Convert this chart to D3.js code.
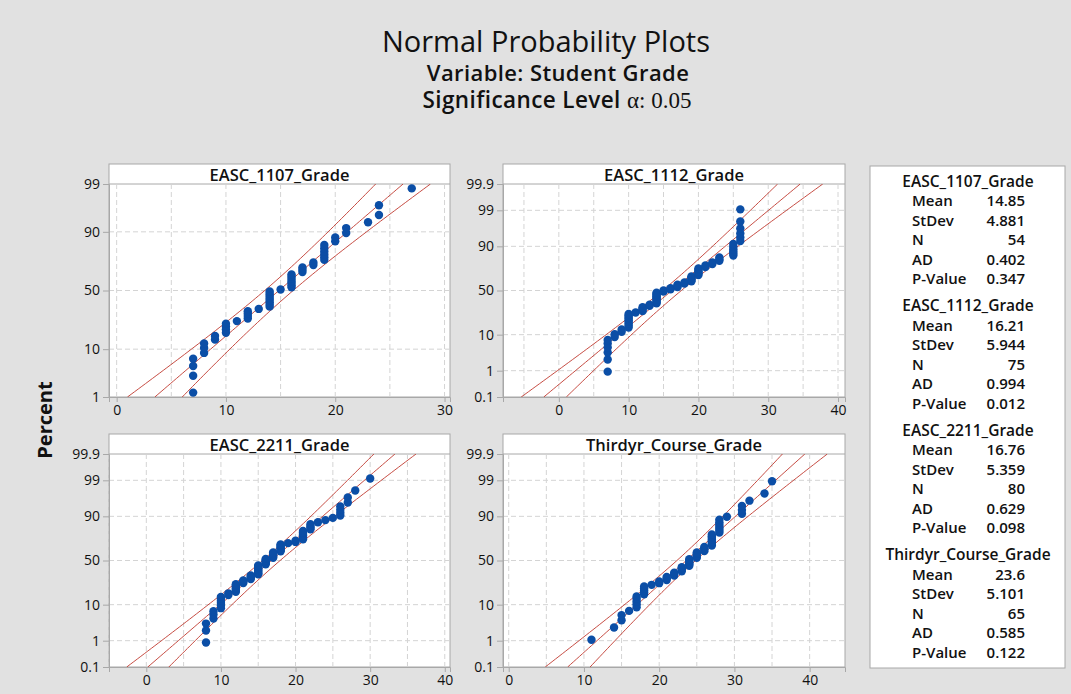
<!DOCTYPE html>
<html lang="en">
<head>
<meta charset="UTF-8">
<title>Normal Probability Plots</title>
<script src="https://d3js.org/d3.v7.min.js"></script>
<style>
    body { margin: 0; background: #e1e1e1; }
    svg text { font-family: "Open Sans", "Noto Sans", sans-serif; fill: #111; }
    .grid line { stroke: #d4d4d4; stroke-dasharray: 5,3; }
    .tick text { font-size: 14px; }
</style>
</head>
<body>
<svg id="chart" width="1071" height="694"></svg>
<script>
    // grades (value and how many students got it)
    const panelNames = ["EASC_1107_Grade", "EASC_1112_Grade", "EASC_2211_Grade", "Thirdyr_Course_Grade"];

    const grades1107 = [7, 8, 9, 10, 11, 12, 13, 14, 15, 16, 17, 18, 19, 20, 21, 23, 24, 27];
    const counts1107 = [4, 3, 2, 4, 1, 4, 1, 8, 1, 7, 3, 2, 6, 2, 2, 1, 2, 1];

    const grades1112 = [7, 8, 9, 10, 11, 12, 13, 14, 15, 16, 17, 18, 19, 20, 21, 22, 23, 25, 26];
    const counts1112 = [6, 2, 2, 9, 1, 4, 2, 10, 2, 2, 3, 2, 5, 6, 2, 2, 3, 6, 6];

    const grades2211 = [8, 9, 10, 11, 12, 13, 14, 15, 16, 17, 18, 19, 20, 21, 22, 23, 24, 25, 26, 27, 28, 30];
    const counts2211 = [3, 3, 6, 2, 6, 3, 4, 9, 6, 6, 7, 1, 2, 7, 4, 1, 1, 1, 4, 2, 1, 1];

    const gradesThird = [11, 14, 15, 16, 17, 18, 19, 20, 21, 22, 23, 24, 25, 26, 27, 28, 29, 31, 32, 34, 35];
    const countsThird = [1, 1, 2, 1, 5, 5, 1, 2, 3, 3, 4, 6, 5, 4, 8, 7, 1, 3, 1, 1, 1];

    // legend statistics
    const statMean = [14.85, 16.21, 16.76, 23.6];
    const statStDev = [4.881, 5.944, 5.359, 5.101];
    const statN = [54, 75, 80, 65];
    const statAD = ["0.402", "0.994", "0.629", "0.585"];
    const statP = ["0.347", "0.012", "0.098", "0.122"];

    const xTicks = [[0, 10, 20, 30], [0, 10, 20, 30, 40], [0, 10, 20, 30, 40], [0, 10, 20, 30, 40]];
    const yTicksShort = [1, 10, 50, 90, 99];
    const yTicksLong = [0.1, 1, 10, 50, 90, 99, 99.9];

    const allGrades = [grades1107, grades1112, grades2211, gradesThird];
    const allCounts = [counts1107, counts1112, counts2211, countsThird];

    // where each panel sits
    const frames = [
        {left: 109, right: 450, stripTop: 164, top: 184, bottom: 397, xDom: [-0.7, 30.5], yLo: 1, yHi: 99, yT: yTicksShort},
        {left: 503, right: 845, stripTop: 164, top: 184, bottom: 397, xDom: [-8, 41], yLo: 0.1, yHi: 99.9, yT: yTicksLong},
        {left: 109, right: 450, stripTop: 434, top: 454, bottom: 667, xDom: [-5, 40.7], yLo: 0.1, yHi: 99.9, yT: yTicksLong},
        {left: 503, right: 845, stripTop: 434, top: 454, bottom: 667, xDom: [-0.76, 44.7], yLo: 0.1, yHi: 99.9, yT: yTicksLong}
    ];

    // inverse normal cdf (Acklam)
    function probit(p) {
        const a = [-3.969683028665376e+01, 2.209460984245205e+02, -2.759285104469687e+02, 1.383577518672690e+02, -3.066479806614716e+01, 2.506628277459239e+00];
        const b = [-5.447609879822406e+01, 1.615858368580409e+02, -1.556989798598866e+02, 6.680131188771972e+01, -1.328068155288572e+01];
        const c = [-7.784894002430293e-03, -3.223964580411365e-01, -2.400758277161838e+00, -2.549732539343734e+00, 4.374664141464968e+00, 2.938163982698783e+00];
        const d = [7.784695709041462e-03, 3.224671290700398e-01, 2.445134137142996e+00, 3.754408661907416e+00];
        let q, r;
        if (p < 0.02425) {
            q = Math.sqrt(-2 * Math.log(p));
            return (((((c[0]*q+c[1])*q+c[2])*q+c[3])*q+c[4])*q+c[5]) / ((((d[0]*q+d[1])*q+d[2])*q+d[3])*q+1);
        }
        if (p > 1 - 0.02425) {
            q = Math.sqrt(-2 * Math.log(1 - p));
            return -(((((c[0]*q+c[1])*q+c[2])*q+c[3])*q+c[4])*q+c[5]) / ((((d[0]*q+d[1])*q+d[2])*q+d[3])*q+1);
        }
        q = p - 0.5; r = q * q;
        return (((((a[0]*r+a[1])*r+a[2])*r+a[3])*r+a[4])*r+a[5])*q / (((((b[0]*r+b[1])*r+b[2])*r+b[3])*r+b[4])*r+1);
    }

    let svg = d3.select("#chart");

    // titles
    svg.append("text").attr("x", 546).attr("y", 52).attr("text-anchor", "middle")
        .style("font-size", "29px").style("font-weight", 400).text("Normal Probability Plots");
    svg.append("text").attr("x", 558).attr("y", 81).attr("text-anchor", "middle")
        .style("font-size", "22px").style("font-weight", 600).style("letter-spacing", "0.4px")
        .text("Variable: Student Grade");
    let sig = svg.append("text").attr("x", 557).attr("y", 108).attr("text-anchor", "middle")
        .style("font-size", "22.5px").style("font-weight", 600);
    sig.append("tspan").style("letter-spacing", "0.4px").text("Significance Level ");
    sig.append("tspan").style("font-family", "'Liberation Serif', serif").style("font-weight", 400)
        .style("font-size", "23px").text("α: 0.05");

    svg.append("text").attr("transform", "translate(52,420) rotate(-90)").attr("text-anchor", "middle")
        .style("font-size", "20px").style("font-weight", 700).text("Percent");

    const red = "#c0392f";
    const zCrit = 1.959964;

    frames.forEach(function (f, k) {
        let g = svg.append("g");
        let x = d3.scaleLinear().domain(f.xDom).range([f.left, f.right]);
        let y = d3.scaleLinear().domain([probit(f.yLo / 100), probit(f.yHi / 100)]).range([f.bottom, f.top]);

        g.append("rect").attr("x", f.left).attr("y", f.stripTop).attr("width", f.right - f.left)
            .attr("height", f.bottom - f.stripTop).attr("fill", "white").attr("stroke", "#a8a8a8");
        g.append("line").attr("x1", f.left).attr("x2", f.right).attr("y1", f.top).attr("y2", f.top)
            .attr("stroke", "#a8a8a8");
        g.append("text").attr("x", (f.left + f.right) / 2).attr("y", f.top - 3.5).attr("text-anchor", "middle")
            .style("font-size", "16.5px").style("font-weight", 600).text(panelNames[k]);

        // dashed grid: every 5 on x, each tick on y
        let gx = d3.range(Math.ceil(f.xDom[0] / 5) * 5, f.xDom[1], 5);
        g.append("g").attr("class", "grid").selectAll("line").data(gx).enter().append("line")
            .attr("x1", d => x(d)).attr("x2", d => x(d)).attr("y1", f.top).attr("y2", f.bottom);
        g.append("g").attr("class", "grid").selectAll("line")
            .data(f.yT.filter(p => p > f.yLo && p < f.yHi)).enter().append("line")
            .attr("x1", f.left).attr("x2", f.right).attr("y1", d => y(probit(d / 100))).attr("y2", d => y(probit(d / 100)));

        // axes
        let ax = g.append("g").attr("transform", `translate(0,${f.bottom})`)
            .call(d3.axisBottom(x).tickValues(xTicks[k]).tickSize(5).tickPadding(3));
        let ay = g.append("g").attr("transform", `translate(${f.left},0)`)
            .call(d3.axisLeft(y).tickValues(f.yT.map(p => probit(p / 100)))
                .tickFormat((d, i) => f.yT[i]).tickSize(6).tickPadding(3));
        [ax, ay].forEach(function (a) {
            a.select(".domain").attr("stroke", "#a8a8a8");
            a.selectAll(".tick line").attr("stroke", "#a8a8a8");
            a.selectAll(".tick text").attr("fill", "#111");
        });

        // clip for fit lines
        let clipId = "clip" + k;
        svg.append("clipPath").attr("id", clipId).append("rect")
            .attr("x", f.left).attr("y", f.top).attr("width", f.right - f.left).attr("height", f.bottom - f.top);

        let mu = statMean[k], sd = statStDev[k], n = statN[k];
        let zs = d3.range(0, 81).map(i => y.domain()[0] + (y.domain()[1] - y.domain()[0]) * i / 80);
        let half = z => zCrit * sd / Math.sqrt(n) * Math.sqrt(1 + z * z / 2);
        let curves = [
            zs.map(z => [mu + z * sd - half(z), z]),
            zs.map(z => [mu + z * sd, z]),
            zs.map(z => [mu + z * sd + half(z), z])
        ];
        let line = d3.line().x(d => x(d[0])).y(d => y(d[1]));
        g.append("g").attr("clip-path", `url(#${clipId})`).selectAll("path").data(curves).enter().append("path")
            .attr("d", line).attr("fill", "none").attr("stroke", red).attr("stroke-width", 0.9);

        // points with median ranks
        let values = [];
        allGrades[k].forEach((v, j) => { for (let c = 0; c < allCounts[k][j]; c++) values.push(v); });
        let N = values.length;
        let pts = values.map((v, i) => ({v: v, z: probit((i + 1 - 0.3) / (N + 0.4))}));
        g.append("g").selectAll("circle").data(pts).enter().append("circle")
            .attr("cx", d => x(d.v)).attr("cy", d => y(d.z)).attr("r", 4.2).attr("fill", "#0b4ea6");
    });

    // legend box
    let lg = svg.append("g");
    lg.append("rect").attr("x", 870).attr("y", 166).attr("width", 195).attr("height", 502)
        .attr("fill", "white").attr("stroke", "#a8a8a8");
    const rowNames = ["Mean", "StDev", "N", "AD", "P-Value"];
    panelNames.forEach(function (name, k) {
        let base = 186.7 + k * 124.5;
        lg.append("text").attr("x", 968).attr("y", base).attr("text-anchor", "middle")
            .style("font-size", "15.5px").style("font-weight", 600).text(name);
        let vals = [statMean[k], statStDev[k], statN[k], statAD[k], statP[k]];
        rowNames.forEach(function (r, j) {
            let yy = base + 19.5 * (j + 1);
            lg.append("text").attr("x", 912).attr("y", yy).style("font-size", "15px").style("font-weight", 600).text(r);
            lg.append("text").attr("x", 1025).attr("y", yy).attr("text-anchor", "end")
                .style("font-size", "15px").style("font-weight", 600).text(vals[j]);
        });
    });
</script>
</body>
</html>
